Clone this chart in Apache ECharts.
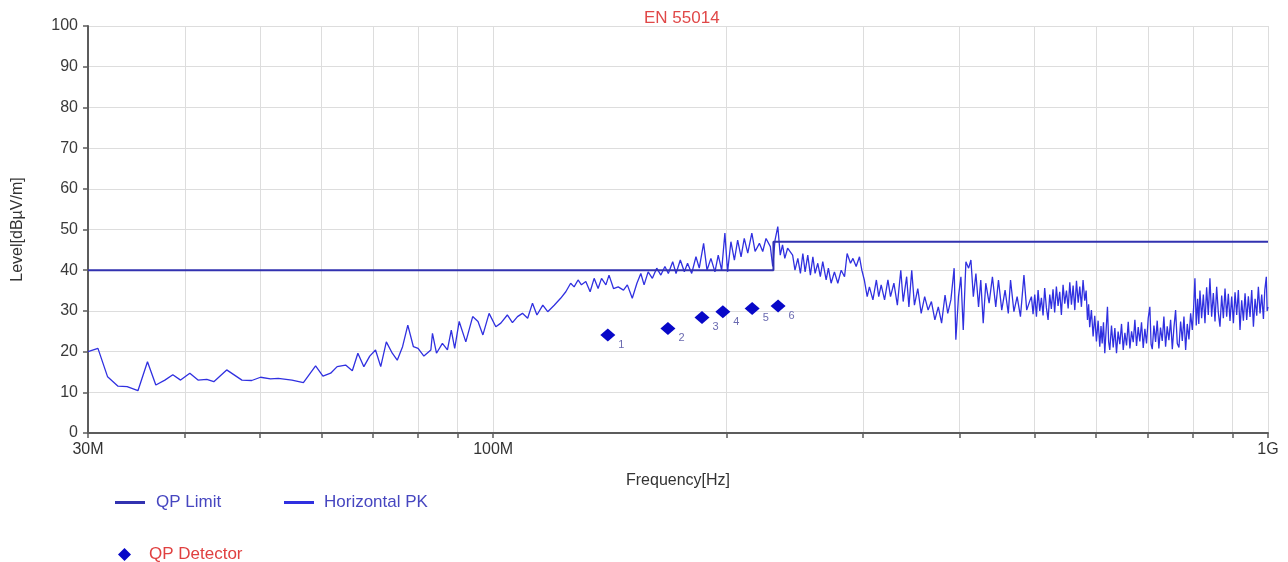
<!DOCTYPE html>
<html>
<head>
<meta charset="utf-8">
<script src="https://cdn.jsdelivr.net/npm/echarts@6/dist/echarts.min.js"></script>
<style>html,body{margin:0;padding:0;background:#fff}#c{width:1288px;height:562px}</style>
</head>
<body>
<div id="c"></div>
<script>
const titleText = 'EN 55014';
const xGridMHz = [30,40,50,60,70,80,90,100,200,300,400,500,600,700,800,900,1000];
const xLabelMHz = [30,100,1000];
const xLabelText = ['30M','100M','1G'];
const limitFreqMHz = [30,230,230,1000];
const limitLevel = [40,40,47,47];
const detectorFreqMHz = [140.6,168.1,186.0,197.9,215.9,233.2];
const detectorLevel = [24.1,25.7,28.4,29.8,30.6,31.2];
const detectorLabels = ['1','2','3','4','5','6'];
const pkTrace = [
[30.0,20.0],[30.9,20.8],[31.8,13.8],[32.8,11.5],[33.7,11.4],[34.8,10.4],[35.8,17.5],[36.7,11.8],[37.7,13.0],[38.6,14.3],
[39.5,13.0],[40.6,14.7],[41.6,13.0],[42.7,13.2],[43.6,12.6],[45.3,15.5],[47.4,13.0],[48.8,12.9],[50.1,13.7],[51.6,13.3],
[52.8,13.4],[55.0,13.0],[56.9,12.4],[59.0,16.5],[60.3,14.0],[61.7,14.7],[62.9,16.3],[64.5,16.7],[65.8,15.3],[66.9,19.6],
[68.1,16.3],[69.3,18.9],[70.5,20.4],[71.6,16.3],[72.8,22.4],[74.1,19.6],[75.2,17.9],[76.4,21.2],[77.6,26.5],[78.9,21.2],
[80.0,20.8],[81.4,18.9],[83.1,20.4],[83.5,24.5],[84.5,19.6],[86.0,22.0],[87.3,20.4],[88.3,25.3],[89.2,20.8],[90.4,27.4],
[92.2,22.4],[94.1,28.6],[95.6,27.4],[97.0,24.1],[98.8,29.4],[100.8,26.1],[102.3,27.0],[104.3,29.0],[105.9,27.1],[107.5,28.6],
[109.1,29.4],[110.8,28.2],[112.4,31.9],[113.9,29.0],[115.9,31.4],[117.6,29.8],[119.9,31.4],[122.2,33.1],[124.1,34.7],[125.9,36.8],
[127.2,35.9],[128.7,37.6],[130.0,36.4],[131.7,37.2],[133.4,34.7],[135.0,38.0],[136.6,35.5],[138.0,38.0],[139.8,36.4],[141.1,38.8],
[143.0,35.5],[145.0,35.9],[147.3,35.1],[149.0,36.4],[151.2,33.1],[153.3,36.8],[155.1,39.2],[156.6,36.4],[158.5,39.6],[160.5,38.0],
[162.6,40.5],[164.6,38.8],[166.6,40.9],[168.3,39.2],[170.5,42.1],[172.2,39.2],[174.4,42.5],[176.5,39.6],[178.2,41.7],[180.4,39.2],
[182.7,43.3],[184.5,40.5],[186.9,46.6],[188.8,40.0],[191.0,42.9],[193.3,39.6],[195.2,43.7],[197.2,40.0],[199.1,49.1],[200.7,39.6],
[202.7,47.0],[204.8,42.5],[206.8,47.4],[208.9,43.3],[210.9,47.8],[213.1,44.2],[215.7,49.1],[217.8,44.6],[220.6,46.6],[222.8,44.6],
[225.0,47.8],[227.9,45.8],[229.5,40.9],[231.1,47.4],[233.0,50.7],[234.7,43.7],[236.3,46.2],[237.9,42.9],[239.9,45.4],[243.5,43.7],
[245.2,40.0],[247.3,42.9],[249.2,39.2],[251.0,44.1],[252.7,39.6],[254.7,43.7],[256.7,38.8],[258.6,43.3],[260.3,39.2],[262.4,41.7],
[264.4,38.4],[266.3,42.1],[269.0,37.6],[270.8,40.5],[273.0,36.8],[275.7,39.6],[278.5,36.8],[281.3,40.0],[284.1,38.4],[286.3,44.1],
[289.2,41.7],[291.3,42.9],[294.1,40.9],[297.0,43.3],[299.1,40.0],[301.3,37.6],[303.9,33.5],[305.9,35.9],[309.1,32.7],[312.3,37.6],
[314.5,33.5],[316.8,36.4],[320.0,32.7],[323.2,37.6],[325.7,33.5],[329.0,36.8],[332.4,31.4],[335.8,40.0],[338.2,32.3],[341.7,38.4],
[344.0,31.0],[346.9,40.0],[349.7,31.4],[353.2,35.5],[356.8,29.4],[360.5,33.5],[364.2,30.2],[367.8,32.3],[371.6,27.8],[375.4,31.0],
[379.1,27.0],[383.0,33.9],[386.1,29.4],[389.7,32.7],[393.5,40.5],[395.5,22.9],[398.6,33.5],[401.5,38.4],[404.3,25.3],[407.5,42.1],
[410.8,40.5],[413.6,42.5],[416.6,33.5],[419.8,39.2],[423.1,31.0],[425.9,37.6],[429.0,27.0],[432.3,36.8],[436.6,31.9],[440.9,38.4],
[445.3,31.0],[448.9,37.6],[453.3,30.2],[457.8,35.1],[462.2,29.4],[465.3,37.6],[470.0,29.8],[474.5,33.5],[479.2,28.6],[484.2,38.8],
[488.2,30.2],[493.2,32.7],
[495.1,33.5],[497.5,29.2],[500.0,34.0],[502.5,28.6],[505.0,35.1],[507.5,30.0],[510.0,33.2],[512.5,28.9],[515.0,35.6],[517.6,30.8],
[520.2,27.8],[522.8,34.0],[525.3,30.5],[527.9,35.3],[530.5,29.6],[533.2,36.0],[535.9,31.2],[538.5,34.7],[541.2,29.0],[543.9,36.4],
[546.6,31.8],[549.4,35.0],[552.2,30.6],[554.9,37.0],[557.6,31.5],[560.4,36.2],[563.2,30.2],[566.0,37.4],[568.9,32.0],[571.6,36.0],
[574.4,31.0],[577.2,37.6],[580.1,32.5],[582.5,35.0],[584.8,27.8],[586.8,31.6],[588.7,26.0],[591.7,30.2],[594.7,23.7],[597.6,28.8],
[600.6,22.5],[603.6,27.6],[606.6,21.2],[608.8,26.3],[610.9,22.0],[613.3,27.2],[615.7,19.6],[618.2,25.5],[620.6,31.0],[622.8,22.4],
[624.9,20.4],[628.1,26.4],[631.3,21.0],[634.4,25.8],[637.5,19.6],[640.6,24.9],[643.8,21.8],[647.1,26.8],[650.4,20.4],[653.6,24.6],
[656.8,21.5],[660.1,27.3],[663.4,20.8],[666.7,25.0],[670.0,22.3],[673.3,27.8],[676.6,21.4],[680.0,26.0],[683.3,22.5],[686.7,27.2],
[690.2,20.9],[693.6,25.6],[697.0,22.0],[700.5,28.2],[703.9,31.0],[706.5,21.8],[709.0,20.6],[712.5,26.4],[716.0,22.4],[719.5,27.6],
[723.0,20.8],[726.6,25.9],[730.3,22.6],[733.9,28.6],[737.6,21.2],[741.2,26.2],[744.9,22.8],[748.7,27.8],[752.5,20.6],[756.2,26.0],
[759.9,30.2],[763.7,22.0],[767.5,21.0],[771.3,27.4],[775.2,22.6],[779.0,28.6],[782.9,20.4],[786.7,26.8],[790.6,23.0],[794.6,29.4],
[798.6,25.3],[801.7,30.8],[804.8,38.0],[808.0,26.4],[811.3,33.0],[814.1,26.8],[816.9,35.0],[821.0,28.2],[825.2,34.0],[829.2,27.0],
[833.3,35.8],[837.4,29.0],[841.5,38.0],[845.8,28.6],[850.1,34.4],[854.3,27.4],[858.5,35.9],[862.7,29.6],[867.0,26.1],[871.4,33.8],
[875.8,28.2],[880.1,35.5],[884.4,28.6],[888.8,34.2],[893.2,27.5],[897.7,33.5],[902.3,27.0],[906.7,34.6],[911.2,29.0],[915.7,35.1],
[920.2,25.3],[924.8,32.6],[929.5,27.6],[934.1,34.3],[938.7,27.8],[943.3,33.6],[948.0,28.5],[952.8,35.1],[957.6,26.1],[962.3,33.0],
[967.1,28.8],[971.8,35.9],[976.6,29.4],[981.5,34.0],[986.5,28.0],[990.5,35.1],[995.0,38.4],[997.5,30.0],[1000,31.0]
];

const FONT = '"Liberation Sans", Arial, sans-serif';
const AXIS_COLOR = '#5c5c5c';
const GRID_COLOR = '#dddddd';

function labelFor(v) {
  for (let i = 0; i < xLabelMHz.length; i++) {
    if (Math.abs(Math.log10(v) - Math.log10(xLabelMHz[i])) < 1e-6) return xLabelText[i];
  }
  return '';
}

const chart = echarts.init(document.getElementById('c'), null, {renderer: 'canvas'});
chart.setOption({
  animation: false,
  backgroundColor: '#ffffff',
  textStyle: {fontFamily: FONT},
  title: {
    text: titleText, left: 639, top: 5,
    textStyle: {color: '#e04848', fontSize: 17, fontWeight: 'normal', fontFamily: FONT}
  },
  legend: [
    {data: ['QP Limit'], left: 110, top: 489, icon: 'rect', itemWidth: 30, itemHeight: 3,
     textStyle: {color: '#4646c0', fontSize: 17, fontFamily: FONT, padding: [0,0,0,6]}},
    {data: ['Horizontal PK'], left: 279, top: 489, icon: 'rect', itemWidth: 30, itemHeight: 3,
     textStyle: {color: '#4646c0', fontSize: 17, fontFamily: FONT, padding: [0,0,0,5]}},
    {data: ['QP Detector'], left: 113, top: 541, icon: 'diamond', itemWidth: 13, itemHeight: 13,
     textStyle: {color: '#e04040', fontSize: 17, fontFamily: FONT, padding: [0,0,0,13]},
     itemStyle: {opacity: 1}}
  ],
  grid: {left: 88, right: 20, top: 26, bottom: 129, containLabel: false},
  xAxis: {
    type: 'log', logBase: 10, min: 30, max: 1000,
    name: 'Frequency[Hz]', nameLocation: 'middle', nameGap: 40,
    nameTextStyle: {color: '#333', fontSize: 16, fontFamily: FONT},
    axisLine: {show: true, lineStyle: {color: AXIS_COLOR, width: 2}},
    axisTick: {show: true, customValues: xGridMHz, length: 5, lineStyle: {color: AXIS_COLOR, width: 1.5}},
    axisLabel: {show: true, customValues: xLabelMHz, formatter: labelFor, color: '#333', fontSize: 16, margin: 9, fontFamily: FONT},
    splitLine: {show: true, lineStyle: {color: GRID_COLOR, width: 1}},
    minorTick: {show: false}, minorSplitLine: {show: false}
  },
  yAxis: {
    type: 'value', min: 0, max: 100, interval: 10,
    name: 'Level[dBµV/m]', nameLocation: 'middle', nameGap: 62,
    nameTextStyle: {color: '#333', fontSize: 16, fontFamily: FONT},
    axisLine: {show: true, lineStyle: {color: AXIS_COLOR, width: 2}},
    axisTick: {show: true, length: 5, lineStyle: {color: AXIS_COLOR, width: 1.5}},
    axisLabel: {color: '#3a3a3a', fontSize: 16, margin: 10, fontFamily: FONT},
    splitLine: {show: true, lineStyle: {color: GRID_COLOR, width: 1}}
  },
  series: [
    {
      name: 'QP Limit', type: 'line', symbol: 'none', color: '#3232b0',
      data: limitFreqMHz.map((f, i) => [f, limitLevel[i]]),
      lineStyle: {color: '#3232b0', width: 2}, z: 3
    },
    {
      name: 'Horizontal PK', type: 'line', symbol: 'none', color: '#3030e0',
      data: pkTrace,
      lineStyle: {color: '#3030e0', width: 1.3}, z: 2
    },
    {
      name: 'QP Detector', type: 'scatter', symbol: 'diamond', symbolSize: [15, 13], color: '#0808c8',
      data: detectorFreqMHz.map((f, i) => ({value: [f, detectorLevel[i]], name: detectorLabels[i]})),
      itemStyle: {color: '#0808c8', opacity: 1},
      label: {show: true, formatter: '{b}', position: 'right', distance: 3, offset: [0, 10],
              color: '#6a6ab0', fontSize: 11, fontFamily: FONT},
      z: 4
    }
  ]
});
</script>
</body>
</html>
